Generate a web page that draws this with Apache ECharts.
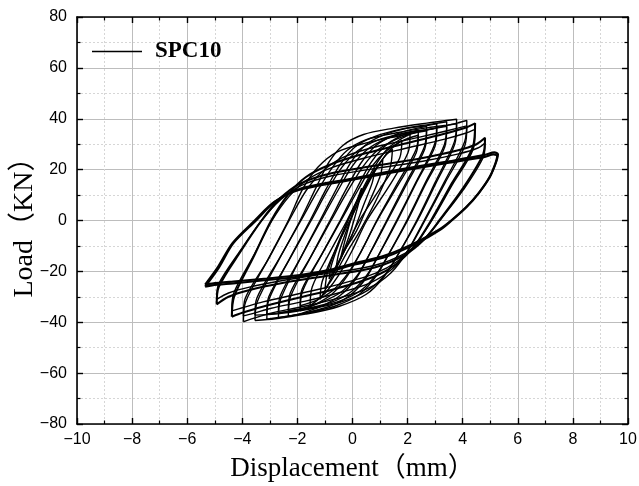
<!DOCTYPE html>
<html><head><meta charset="utf-8">
<script src="https://cdn.jsdelivr.net/npm/echarts@6/dist/echarts.min.js"></script>
<style>html,body{margin:0;padding:0;background:#fff}#c{width:639px;height:486px}</style>
</head><body><div id="c"></div>
<script>
const xTicks = [-10, 10, 2];
const yTicks = [-80, 80, 20];
const seriesName = 'SPC10';
const xTitle = 'Displacement（mm）';
const yTitle = 'Load（KN）';

const loop01 = [[-0.45,-15.5],[-0.3,-9],[-0.1,-1],[0.1,6],[0.33,12.7],[0.25,8],[0.05,0],[-0.15,-7],[-0.45,-15.5]];
const loop02 = [[-0.6,-19],[-0.5,-13],[-0.15,-2],[0.2,7],[0.5,14],[0.8,20],[0.72,15],[0.4,6],[0.05,-4],[-0.3,-12],[-0.6,-19]];
const loop03 = [[-0.85,-23],[-0.75,-17],[-0.35,-5],[0.05,5],[0.45,13],[0.8,19.5],[1.1,24],[1.02,18],[0.6,7],[0.15,-4],[-0.3,-12],[-0.6,-18],[-0.85,-23]];
const loop04 = [[-1.0,-27],[-0.9,-20],[-0.45,-7],[0.0,4],[0.45,13],[0.85,20.5],[1.2,25.5],[1.45,28],[1.37,21],[0.95,10],[0.3,-3.5],[-0.2,-12.5],[-0.55,-19.5],[-0.8,-24],[-1.0,-27]];
const loop05 = [[-1.18,-31],[-1.1,-24],[-0.6,-11],[-0.1,0],[0.4,11],[0.85,20],[1.25,26.5],[1.55,29.5],[1.79,31.5],[1.71,24.5],[1.0,12.5],[0.25,0],[-0.25,-11],[-0.65,-20],[-0.95,-26.5],[-1.18,-31]];
const loop06 = [[-1.54,-33.5],[-1.46,-26],[-0.85,-13],[-0.2,0],[0.35,12],[0.85,22],[1.3,28.5],[1.75,32],[2.09,34],[2.01,26.5],[1.3,13],[0.52,0],[-0.02,-12],[-0.5,-21.5],[-0.95,-28],[-1.3,-31.5],[-1.54,-33.5]];
const loop07 = [[-1.9,-35.5],[-1.82,-28],[-1.15,-14],[-0.45,0],[0.15,12.5],[0.65,22.5],[1.15,29],[1.7,33],[2.39,35.5],[2.31,28],[1.6,14],[0.88,0],[0.3,-12.5],[-0.2,-22],[-0.75,-29],[-1.35,-33],[-1.9,-35.5]];
const loop07b = [[-1.9,-33.5],[-1.83,-27],[-1.1,-13],[-0.42,0],[0.2,12],[0.72,21.5],[1.25,27.5],[1.8,31.3],[2.39,33.5],[2.31,26.5],[1.6,13],[0.9,0],[0.32,-12],[-0.18,-21],[-0.72,-27.5],[-1.3,-31.3],[-1.9,-33.5]];
const loop08 = [[-2.33,-37.6],[-2.25,-30],[-1.55,-15],[-0.82,0],[-0.22,12.5],[0.3,22.5],[0.85,29.5],[1.5,33.5],[2.15,35.8],[2.69,37],[2.61,29],[1.95,15],[1.24,0],[0.65,-12.5],[0.15,-22.5],[-0.45,-29.5],[-1.15,-33.8],[-1.85,-36.5],[-2.33,-37.6]];
const loop08b = [[-2.33,-35.5],[-2.26,-28.5],[-1.5,-14],[-0.78,0],[-0.15,12],[0.4,21.5],[0.95,28],[1.6,32],[2.2,34.3],[2.69,35.3],[2.62,28],[1.95,14],[1.27,0],[0.68,-12],[0.18,-21.5],[-0.4,-28],[-1.1,-32],[-1.8,-34.5],[-2.33,-35.5]];
const loop09 = [[-2.69,-38.2],[-2.61,-31],[-1.9,-15],[-1.18,0],[-0.58,12.5],[-0.08,22.5],[0.45,29.5],[1.1,33.5],[2.0,36.3],[2.7,37.3],[3.06,38],[2.98,30],[2.3,15],[1.6,0],[1.0,-12.5],[0.5,-22.5],[-0.1,-29.5],[-0.85,-33.8],[-1.9,-36.8],[-2.69,-38.2]];
const loop09b = [[-2.69,-36.2],[-2.62,-29.5],[-1.85,-14],[-1.14,0],[-0.52,12],[0.0,21.5],[0.55,28],[1.2,32],[2.05,34.8],[2.7,35.6],[3.06,36.3],[2.99,29],[2.3,14.5],[1.63,0],[1.03,-12],[0.52,-21.5],[-0.05,-28],[-0.8,-32.3],[-1.85,-35],[-2.69,-36.2]];
const loop10 = [[-3.11,-38.8],[-3.03,-31],[-2.28,-15],[-1.54,0],[-0.95,12.5],[-0.45,22],[0.1,29],[0.8,33],[1.8,36],[2.8,37.8],[3.42,38.8],[3.34,30],[2.65,15],[1.97,0],[1.35,-12.5],[0.85,-22],[0.25,-29],[-0.6,-33.5],[-1.7,-36.5],[-2.6,-38],[-3.11,-38.8]];
const loop10b = [[-3.11,-36.8],[-3.04,-30],[-2.25,-14.5],[-1.5,0],[-0.9,12],[-0.38,21],[0.2,27.5],[0.9,31.5],[1.9,34.3],[2.85,36],[3.42,37],[3.35,29],[2.66,14.5],[2.0,0],[1.38,-12],[0.88,-21],[0.3,-27.5],[-0.55,-32],[-1.65,-34.8],[-2.6,-36.2],[-3.11,-36.8]];
const loop11 = [[-3.54,-39.3],[-3.46,-32],[-2.7,-16],[-1.9,0],[-1.32,13],[-0.85,23],[-0.35,29.5],[0.4,33.8],[1.5,36.3],[2.7,38.3],[3.4,39.3],[3.78,39.8],[3.7,31],[3.0,15],[2.33,0],[1.7,-12.5],[1.15,-22],[0.5,-29],[-0.5,-33.8],[-1.7,-36.8],[-2.8,-38.6],[-3.54,-39.3]];
const loop11b = [[-3.54,-37.2],[-3.47,-30.5],[-2.66,-15],[-1.87,0],[-1.25,12],[-0.72,21],[-0.2,27.5],[0.5,31.8],[1.6,34.5],[2.75,36.5],[3.45,37.5],[3.78,38],[3.71,30],[3.02,14.5],[2.36,0],[1.73,-12],[1.2,-21],[0.55,-27.5],[-0.45,-32.2],[-1.65,-35],[-2.8,-36.8],[-3.54,-37.2]];
const loop12 = [[-3.96,-39.8],[-3.88,-32],[-3.1,-16],[-2.33,0],[-1.8,12.5],[-1.25,21],[-0.55,27],[0.5,30.5],[1.8,33.5],[3.0,36.3],[3.8,38.3],[4.15,39.3],[4.07,31],[3.35,15.5],[2.6,0],[2.0,-12],[1.4,-20.5],[0.6,-26.5],[-0.5,-30.5],[-1.8,-33.8],[-3.0,-36.5],[-3.6,-38.5],[-3.96,-39.8]];
const loop12b = [[-3.96,-37.5],[-3.89,-30.5],[-3.07,-15.5],[-2.3,0],[-1.7,11.5],[-1.12,19],[-0.4,24.5],[0.6,28.3],[1.9,31.5],[3.05,34.3],[3.82,36.3],[4.15,37.2],[4.08,29.5],[3.37,15],[2.63,0],[2.03,-11.5],[1.45,-19],[0.65,-24.5],[-0.45,-28.3],[-1.75,-31.8],[-2.95,-34.5],[-3.6,-36.5],[-3.96,-37.5]];
const loop13 = [[-4.38,-37.8],[-4.3,-30],[-3.6,-14.5],[-2.95,0],[-2.35,10],[-1.7,17],[-0.8,22],[0.5,26.5],[2.0,30.5],[3.3,34],[4.1,36.5],[4.45,38.2],[4.37,29],[3.6,14.5],[2.85,0],[2.25,-10],[1.6,-17],[0.8,-22],[-0.5,-26.5],[-2.0,-30.5],[-3.3,-34],[-4.0,-36.3],[-4.38,-37.8]];
const loop13b = [[-4.38,-35.5],[-4.31,-28.5],[-3.6,-14],[-2.92,0],[-2.3,9.5],[-1.65,16],[-0.75,20.8],[0.6,25],[2.1,28.8],[3.35,32],[4.1,34.3],[4.45,35.8],[4.38,28],[3.62,14],[2.88,0],[2.28,-9.5],[1.63,-16],[0.82,-20.8],[-0.45,-25],[-1.95,-28.8],[-3.25,-32],[-4.0,-34.3],[-4.38,-35.5]];
const loop14 = [[-4.93,-33],[-4.85,-26],[-4.05,-12],[-3.3,0],[-2.65,8.5],[-1.9,14.5],[-0.8,18.5],[0.8,21.5],[2.5,24.5],[3.8,27.5],[4.5,30],[4.81,32.5],[4.74,26],[4.0,12.5],[3.15,0],[2.6,-7.5],[1.9,-13.5],[0.8,-18.5],[-0.8,-21.5],[-2.5,-24.5],[-3.8,-27.5],[-4.5,-30],[-4.93,-33]];
const loop14b = [[-4.93,-31],[-4.86,-25],[-4.05,-11.5],[-3.3,0],[-2.63,8],[-1.85,13.8],[-0.75,17.6],[0.85,20.5],[2.55,23.3],[3.85,26.2],[4.55,28.5],[4.81,30.5],[4.75,25],[4.02,12],[3.17,0],[2.62,-7],[1.92,-12.8],[0.82,-17.6],[-0.78,-20.6],[-2.48,-23.5],[-3.78,-26.3],[-4.5,-28.5],[-4.93,-31]];
const loop15 = [[-5.35,-26],[-4.85,-18.5],[-4.33,-9],[-3.5,0],[-2.8,7.5],[-1.9,12.5],[0,16.5],[1.7,20],[3.5,23.3],[4.8,25.8],[5.15,26.8],[5.28,26],[5.2,22.5],[4.99,17.2],[4.6,11],[4.15,5.4],[3.6,0],[3.18,-3.7],[2.33,-9],[1.24,-14.2],[0,-17.5],[-0.82,-20],[-1.9,-22],[-3.11,-23.4],[-4.33,-24.7],[-5.1,-25.5],[-5.35,-26]];
const loop15b = [[-5.35,-25.2],[-4.87,-18],[-4.35,-8.8],[-3.55,0],[-2.85,7.2],[-1.95,12],[0,16],[1.7,19.4],[3.5,22.7],[4.8,25],[5.12,26],[5.25,25.4],[5.17,22],[4.96,16.8],[4.57,10.7],[4.12,5.2],[3.58,0],[3.15,-3.5],[2.3,-8.6],[1.2,-13.7],[0,-17],[-0.82,-19.4],[-1.9,-21.4],[-3.11,-22.8],[-4.33,-24],[-5.1,-24.8],[-5.35,-25.2]];

const loops = [loop01,loop02,loop03,loop04,loop05,loop06,loop07,loop07b,loop08,loop08b,loop09,loop09b,loop10,loop10b,loop11,loop11b,loop12,loop12b,loop13,loop13b,loop14,loop14b,loop15,loop15b];
const heavy = [loop13, loop14, loop15, loop15b];

const chart = echarts.init(document.getElementById('c'), null, {renderer:'canvas'});
const lbl = v => String(v).replace('-', '\u2212');
const axisCommon = {
  axisLine:{onZero:false, lineStyle:{color:'#000', width:1.6}},
  axisTick:{inside:true, length:6, lineStyle:{color:'#000', width:1.4}},
  minorTick:{show:true, splitNumber:2, length:3.5, lineStyle:{color:'#000', width:1.2}}
};
const labelStyle = {color:'#000', fontFamily:'Liberation Sans, Arial, sans-serif', fontSize:16, formatter:lbl};
const option = {
  animation:false,
  backgroundColor:'#fff',
  grid:{left:77, right:11, top:17, bottom:62, containLabel:false, outerBoundsMode:'none'},
  legend:{show:true, data:[seriesName], left:87, top:35, icon:'rect', itemWidth:50, itemHeight:1.5,
    itemStyle:{color:'#000'},
    textStyle:{fontFamily:'Liberation Serif, Times New Roman, serif', fontWeight:'bold', fontSize:23, color:'#000', padding:[0,0,0,8]}},
  xAxis:[
    Object.assign({type:'value', min:xTicks[0], max:xTicks[1], interval:xTicks[2], position:'bottom',
      splitLine:{show:true, lineStyle:{color:'#bdbdbd', width:1}},
      minorSplitLine:{show:true, lineStyle:{color:'#d6d6d6', width:1, type:[2,2]}},
      axisLabel:Object.assign({margin:8}, labelStyle),
      name:xTitle, nameLocation:'middle', nameGap:31, nameMoveOverlap:false,
      nameTextStyle:{fontFamily:'Liberation Serif, Times New Roman, Noto Sans CJK SC, serif', fontSize:27, color:'#000'}}, axisCommon),
    Object.assign({type:'value', min:xTicks[0], max:xTicks[1], interval:xTicks[2], position:'top',
      splitLine:{show:false}, axisLabel:{show:false}}, axisCommon)
  ],
  yAxis:[
    Object.assign({type:'value', min:yTicks[0], max:yTicks[1], interval:yTicks[2], position:'left',
      splitLine:{show:true, lineStyle:{color:'#bdbdbd', width:1}},
      minorSplitLine:{show:true, lineStyle:{color:'#d6d6d6', width:1, type:[2,2]}},
      axisLabel:Object.assign({margin:10}, labelStyle),
      name:yTitle, nameLocation:'middle', nameGap:38, nameRotate:90, nameMoveOverlap:false,
      nameTextStyle:{fontFamily:'Liberation Serif, Times New Roman, Noto Sans CJK SC, serif', fontSize:28, color:'#000'}}, axisCommon),
    Object.assign({type:'value', min:yTicks[0], max:yTicks[1], interval:yTicks[2], position:'right',
      splitLine:{show:false}, axisLabel:{show:false}}, axisCommon)
  ],
  series: loops.map(d => ({
    type:'line', name:seriesName, data:d, smooth:0.3, symbol:'none', showSymbol:false,
    xAxisIndex:0, yAxisIndex:0, silent:true,
    lineStyle:{color:'#000', width: heavy.includes(d) ? 2.1 : 1.4}
  }))
};
chart.setOption(option);
</script></body></html>
